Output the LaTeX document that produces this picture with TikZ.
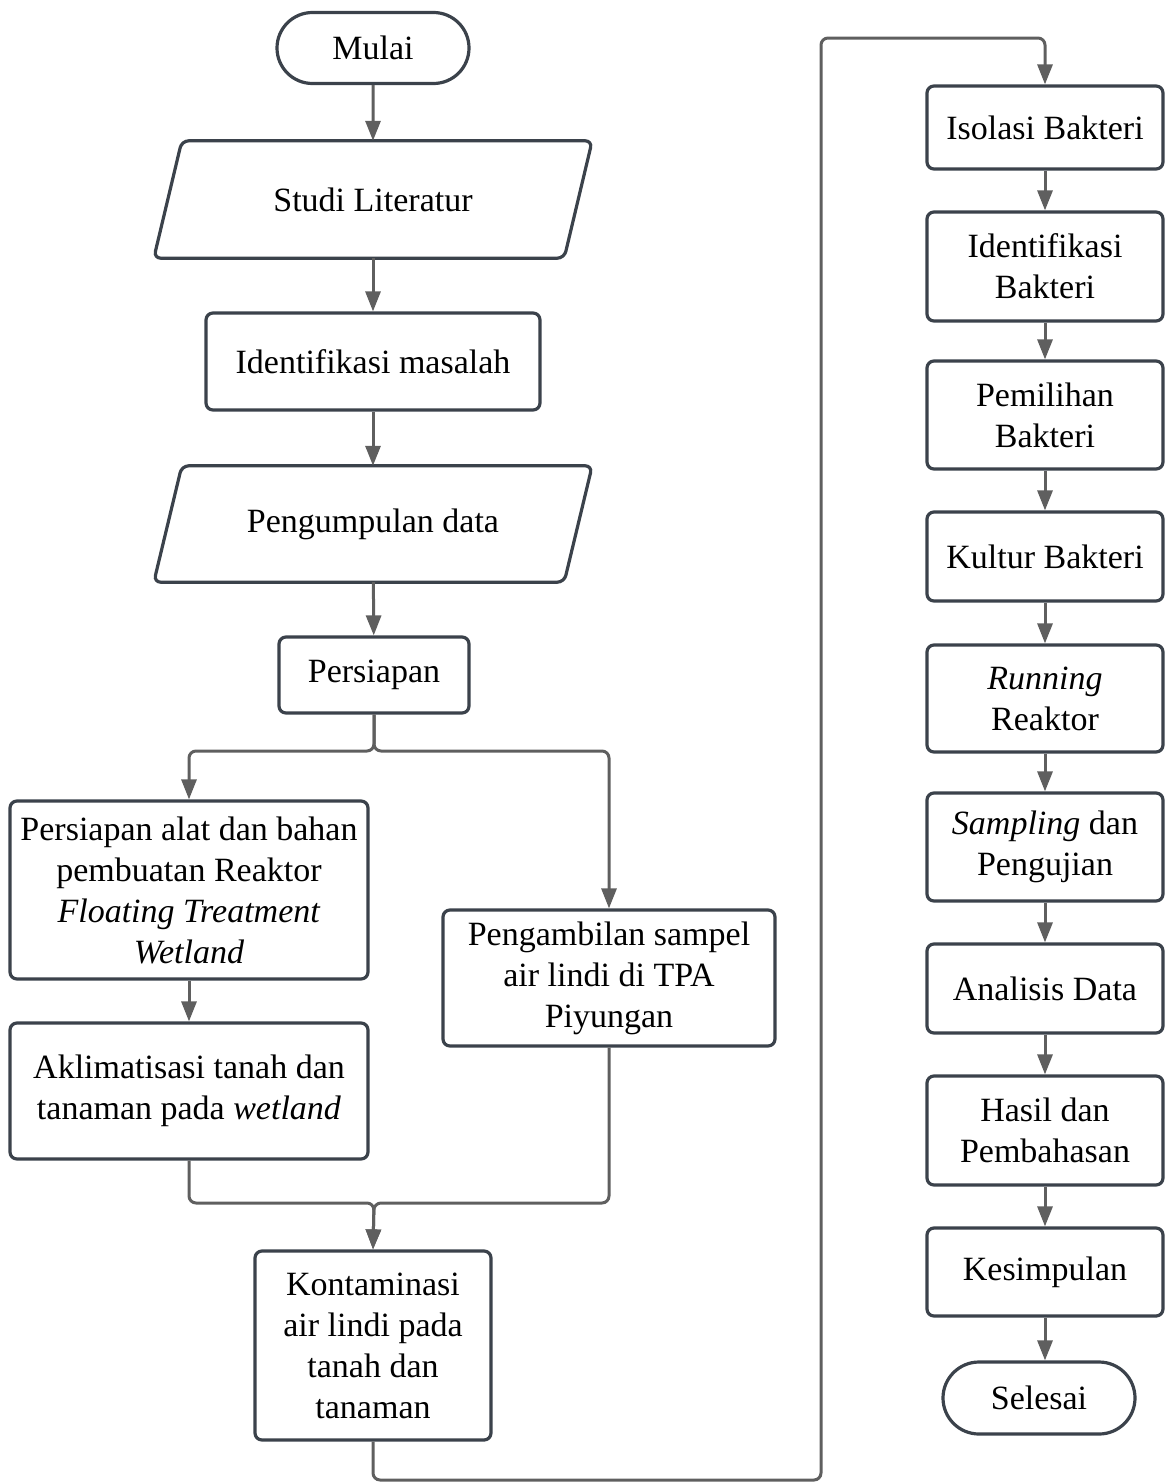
\documentclass[tikz,border=0pt]{standalone}
\usepackage{fontspec}
\setmainfont{Liberation Serif}
\usetikzlibrary{arrows.meta,shapes.misc}
\definecolor{boxline}{HTML}{3B424B}
\definecolor{flowline}{HTML}{5F5F5F}

\begin{document}
\begin{tikzpicture}[x=1pt,y=-1pt,
  every node/.style={font=\fontsize{34}{41}\selectfont, align=center, inner sep=0pt},
  procbox/.style={draw=boxline, line width=3.2pt, rounded corners=7pt, fill=white},
  slantbox/.style={draw=boxline, line width=3.2pt, rounded corners=7pt},
  terminal/.style={draw=boxline, line width=3.2pt, rounded rectangle, fill=white,
    minimum width=192pt, minimum height=71pt},
  flow/.style={draw=flowline, line width=3pt, rounded corners=7pt,
    -{Triangle[width=15pt,length=20pt]}},
  ]
\useasboundingbox (0,0) rectangle (1170,1483);

% ---------- left column ----------
\node[terminal] (mulai) at (373,48) {Mulai};

\node[minimum width=410pt, minimum height=117pt] (studi) at (373,199.5) {Studi Literatur};
\draw[slantbox] (studi.north) -- ([xshift=14pt]studi.north east) -- ([xshift=-14pt]studi.south east)
  -- ([xshift=-14pt]studi.south west) -- ([xshift=14pt]studi.north west) -- cycle;

\node[procbox, minimum width=334pt, minimum height=97pt] (masalah) at (373,361.5) {Identifikasi masalah};

\node[minimum width=410pt, minimum height=116pt] (data) at (373,524) {Pengumpulan data};
\draw[slantbox] (data.north) -- ([xshift=14pt]data.north east) -- ([xshift=-14pt]data.south east)
  -- ([xshift=-14pt]data.south west) -- ([xshift=14pt]data.north west) -- cycle;

\node[procbox, minimum width=190pt, minimum height=76pt] (persiapan) at (374,675) {Persiapan};

\node[procbox, minimum width=358pt, minimum height=178pt] (alat) at (189,890)
  {Persiapan alat dan bahan\\pembuatan Reaktor\\\textit{Floating Treatment}\\\textit{Wetland}};
\node[procbox, minimum width=358pt, minimum height=136pt] (aklim) at (189,1091)
  {Aklimatisasi tanah dan\\tanaman pada \textit{wetland}};
\node[procbox, minimum width=332pt, minimum height=136pt] (sampel) at (609,978)
  {Pengambilan sampel\\air lindi di TPA\\Piyungan};
\node[procbox, minimum width=236pt, minimum height=189pt] (kontam) at (373,1345.5)
  {Kontaminasi\\air lindi pada\\tanah dan\\tanaman};

% ---------- right column ----------
\node[procbox, minimum width=236pt, minimum height=83pt] (isolasi) at (1045,127.5) {Isolasi Bakteri};
\node[procbox, minimum width=236pt, minimum height=109pt] (identb) at (1045,266.5) {Identifikasi\\Bakteri};
\node[procbox, minimum width=236pt, minimum height=108pt] (pilih) at (1045,415) {Pemilihan\\Bakteri};
\node[procbox, minimum width=236pt, minimum height=89pt] (kultur) at (1045,556.5) {Kultur Bakteri};
\node[procbox, minimum width=236pt, minimum height=107pt] (running) at (1045,698.5) {\textit{Running}\\Reaktor};
\node[procbox, minimum width=236pt, minimum height=108pt] (uji) at (1045,847) {\textit{Sampling} dan\\Pengujian};
\node[procbox, minimum width=236pt, minimum height=89pt] (analisis) at (1045,988.5) {Analisis Data};
\node[procbox, minimum width=236pt, minimum height=109pt] (hasil) at (1045,1130.5) {Hasil dan\\Pembahasan};
\node[procbox, minimum width=236pt, minimum height=88pt] (simpul) at (1045,1272) {Kesimpulan};
\node[terminal, minimum height=72pt] (selesai) at (1039,1398) {Selesai};

% ---------- junction points ----------
\coordinate (split) at (374,751);
\coordinate (merge) at (374,1203);
\coordinate (botR) at (821,1480);
\coordinate (topL) at (821,38);

% ---------- connectors ----------
\draw[flow] (mulai) -- (studi);
\draw[flow] (studi) -- (masalah);
\draw[flow] (masalah) -- (data);
\draw[flow] (data) -- (persiapan);
\draw[flow] (persiapan.south) -- (split) -| (alat.north);
\draw[flow] (persiapan.south) -- (split) -| (sampel.north);
\draw[flow] (alat) -- (aklim);
\draw[flow] (aklim.south) |- (merge) -- (kontam.north);
\draw[flow] (sampel.south) |- (merge) -- (kontam.north);
\draw[flow] (kontam.south) |- (botR) -- (topL) -| (isolasi.north);
\draw[flow] (isolasi) -- (identb);
\draw[flow] (identb) -- (pilih);
\draw[flow] (pilih) -- (kultur);
\draw[flow] (kultur) -- (running);
\draw[flow] (running) -- (uji);
\draw[flow] (uji) -- (analisis);
\draw[flow] (analisis) -- (hasil);
\draw[flow] (hasil) -- (simpul);
\draw[flow] (simpul.south) -- ([xshift=6pt]selesai.north);
\end{tikzpicture}
\end{document}
